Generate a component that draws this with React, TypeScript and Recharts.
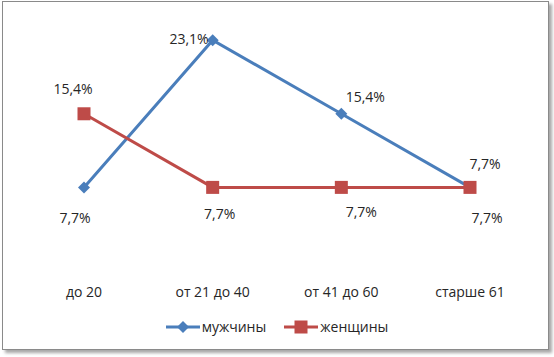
import { LineChart, Line, XAxis, YAxis, LabelList } from 'recharts'

const categories = ['до 20', 'от 21 до 40', 'от 41 до 60', 'старше 61']
const men = [7.7, 23.1, 15.4, 7.7]
const women = [15.4, 7.7, 7.7, 7.7]

const BLUE = '#4a7ebb'
const RED = '#be4b48'
const FONT = 'Open Sans, sans-serif'
const FS = 14

const data = categories.map((name, i) => ({ name, men: men[i], women: women[i] }))

// label offsets relative to each point (Excel placed them by hand)
const menLabelPos = [
  { dx: -9, dy: 30, anchor: 'middle' },
  { dx: -4, dy: -2, anchor: 'end' },
  { dx: 24, dy: -17, anchor: 'middle' },
  { dx: 17, dy: 30, anchor: 'middle' },
]
const womenLabelPos = [
  { dx: -11, dy: -25, anchor: 'middle' },
  { dx: 7, dy: 26, anchor: 'middle' },
  { dx: 20, dy: 24, anchor: 'middle' },
  { dx: 15, dy: -24, anchor: 'middle' },
]

const fmt = (v: number) => v.toFixed(1).replace('.', ',') + '%'

function makeLabel(pos: { dx: number; dy: number; anchor: string }[]) {
  return (props: any) => {
    const { x, y, value, index } = props
    const p = pos[index]
    return (
      <text
        x={x + p.dx}
        y={y + p.dy}
        textAnchor={p.anchor}
        dominantBaseline="central"
        fontSize={FS}
        fontFamily={FONT}
        fill="#262626"
      >
        {fmt(value)}
      </text>
    )
  }
}

const Diamond = (props: any) => {
  const { cx, cy } = props
  const r = 6
  return <path d={`M${cx},${cy - r}L${cx + r},${cy}L${cx},${cy + r}L${cx - r},${cy}Z`} fill={BLUE} />
}

const Square = (props: any) => {
  const { cx, cy } = props
  return <rect x={cx - 6.5} y={cy - 6.5} width={13} height={13} fill={RED} />
}

function LegendBox() {
  const items = [
    { name: 'мужчины', color: BLUE, shape: 'diamond' },
    { name: 'женщины', color: RED, shape: 'square' },
  ]
  return (
    <div
      style={{
        position: 'absolute',
        left: 0,
        top: 317,
        width: 554,
        display: 'flex',
        justifyContent: 'center',
        gap: 18,
        fontFamily: FONT,
        fontSize: FS,
        color: '#262626',
      }}
    >
      {items.map(it => (
        <div key={it.name} style={{ display: 'flex', alignItems: 'center' }}>
          <svg width={34} height={14} style={{ marginRight: 2 }}>
            <line x1={0} y1={7} x2={34} y2={7} stroke={it.color} strokeWidth={3} />
            {it.shape === 'diamond' ? (
              <path d="M17,1L23,7L17,13L11,7Z" fill={it.color} />
            ) : (
              <rect x={10.5} y={0.5} width={13} height={13} fill={it.color} />
            )}
          </svg>
          <span>{it.name}</span>
        </div>
      ))}
    </div>
  )
}

export default function App() {
  return (
    <div style={{ position: 'absolute', left: 0, top: 0, width: 554, height: 357, background: '#fff' }}>
      <div
        style={{
          position: 'absolute',
          left: 2,
          top: 1,
          width: 545,
          height: 347,
          border: '1px solid #8a8a8a',
          boxShadow: '3px 3px 3px rgba(0,0,0,0.35)',
          background: '#fff',
        }}
      />
      <div style={{ position: 'absolute', left: 0, top: 0 }}>
        <LineChart width={554} height={357} data={data} margin={{ top: 22, right: 20, bottom: 66, left: 20 }}>
          <XAxis
            dataKey="name"
            axisLine={false}
            tickLine={false}
            height={30}
            tickMargin={20}
            padding={{ left: 64, right: 64 }}
            tick={{ fontSize: FS, fontFamily: FONT, fill: '#262626' }}
            interval={0}
          />
          <YAxis hide domain={[0, 25]} />
          <Line
            dataKey="men"
            name="мужчины"
            stroke={BLUE}
            strokeWidth={3}
            dot={<Diamond />}
            activeDot={false}
            isAnimationActive={false}
          >
            <LabelList dataKey="men" content={makeLabel(menLabelPos)} />
          </Line>
          <Line
            dataKey="women"
            name="женщины"
            stroke={RED}
            strokeWidth={3}
            dot={<Square />}
            activeDot={false}
            isAnimationActive={false}
          >
            <LabelList dataKey="women" content={makeLabel(womenLabelPos)} />
          </Line>
        </LineChart>
      </div>
      <LegendBox />
    </div>
  )
}
